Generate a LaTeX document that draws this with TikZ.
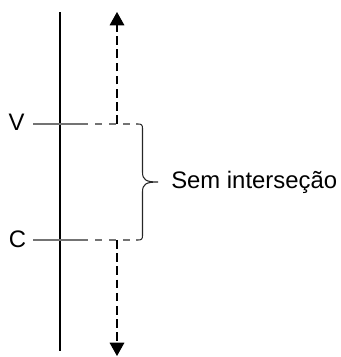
\documentclass[tikz,border=0pt]{standalone}
\usepackage{fontspec}
\setmainfont{Liberation Sans}
\usetikzlibrary{arrows.meta}
\begin{document}
\begin{tikzpicture}[x=0.75pt,y=-0.75pt,
  lbl/.style={inner sep=0pt,font=\fontsize{17.9}{21}\selectfont},
  level/.style={draw=black!55,line width=0.8pt},
  leveldash/.style={level,dash pattern=on 5.25pt off 5.25pt,dash phase=5.25pt},
  axis/.style={draw=black,line width=0.8pt},
  flow/.style={draw=black,line width=0.8pt,dash pattern=on 6.5pt off 3.4pt,
    -{Triangle[width=11pt,length=10pt]}},
  brace/.style={draw=black!85,line width=0.8pt}]
\useasboundingbox (0,0) rectangle (340,357);

% labels
\node[lbl,anchor=base] (V) at (16.5,130) {V};
\node[lbl,anchor=base] (C) at (17.5,247) {C};
\node[lbl,anchor=base west] (txt) at (171,188.5) {Sem interseção};

% anchor points
\coordinate (vs) at (33,124);
\coordinate (vm) at (88,124);
\coordinate (ve) at (136,124);
\coordinate (cs) at (33,240);
\coordinate (cm) at (88,240);
\coordinate (ce) at (136,240);
\coordinate (top) at (60,12);
\coordinate (bot) at (60,351);
\coordinate (vup) at (117,124);
\coordinate (upend) at (117,12);
\coordinate (cdn) at (117,240);
\coordinate (dnend) at (117,356);

% main vertical line
\draw[axis] (top) -- (bot);

% level lines
\draw[level] (vs) -- (vm);
\draw[leveldash] (vm) -- (ve);
\draw[level] (cs) -- (cm);
\draw[leveldash] (cm) -- (ce);

% dashed arrows
\draw[flow] (vup) -- (upend);
\draw[flow] (cdn) -- (dnend);

% brace
\draw[brace] (ve) -- (138,124) .. controls (141.5,124) and (142.5,125) .. (142.5,128.5)
  -- (142.5,172) .. controls (142.5,180) and (146,182) .. (158,182)
  .. controls (146,182) and (142.5,184) .. (142.5,192)
  -- (142.5,235.5) .. controls (142.5,239) and (141.5,240) .. (138,240) -- (ce);
\end{tikzpicture}
\end{document}
